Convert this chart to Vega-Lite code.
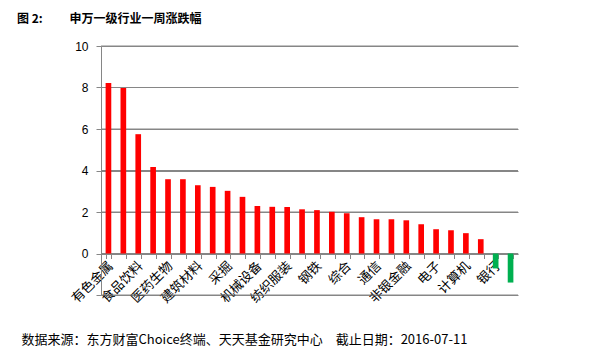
{
  "$schema": "https://vega.github.io/schema/vega-lite/v6.json",
  "width": 417,
  "height": 249,
  "autosize": "none",
  "padding": {"left": 101, "top": 46, "right": 78, "bottom": 56},
  "background": "white",
  "title": {
    "text": "图 2:　　 申万一级行业一周涨跌幅",
    "anchor": "start",
    "frame": "group",
    "dx": -84,
    "offset": 14,
    "font": "Noto Sans CJK SC",
    "fontSize": 12,
    "fontWeight": "bold",
    "color": "black"
  },
  "layer": [
    {
      "data": {"values": [{"tick": -2}, {"tick": 0}, {"tick": 2}, {"tick": 4}, {"tick": 6}, {"tick": 8}, {"tick": 10}]},
      "mark": {"type": "rule", "color": "#868686", "strokeWidth": 1},
      "encoding": {
        "y": {"field": "tick", "type": "quantitative"}
      }
    },
    {
      "data": {
        "values": [
          {"industry": "有色金属", "change": 8.22},
          {"industry": "家用电器", "change": 7.98},
          {"industry": "食品饮料", "change": 5.75},
          {"industry": "休闲服务", "change": 4.17},
          {"industry": "医药生物", "change": 3.58},
          {"industry": "化工", "change": 3.58},
          {"industry": "建筑材料", "change": 3.29},
          {"industry": "轻工制造", "change": 3.21},
          {"industry": "采掘", "change": 3.02},
          {"industry": "建筑装饰", "change": 2.73},
          {"industry": "机械设备", "change": 2.29},
          {"industry": "电气设备", "change": 2.25},
          {"industry": "纺织服装", "change": 2.24},
          {"industry": "汽车", "change": 2.13},
          {"industry": "钢铁", "change": 2.09},
          {"industry": "农林牧渔", "change": 2.01},
          {"industry": "综合", "change": 1.94},
          {"industry": "商业贸易", "change": 1.75},
          {"industry": "通信", "change": 1.65},
          {"industry": "公用事业", "change": 1.65},
          {"industry": "非银金融", "change": 1.6},
          {"industry": "交通运输", "change": 1.41},
          {"industry": "电子", "change": 1.17},
          {"industry": "房地产", "change": 1.12},
          {"industry": "计算机", "change": 0.98},
          {"industry": "国防军工", "change": 0.69},
          {"industry": "银行", "change": -0.72},
          {"industry": "传媒", "change": -1.4}
        ]
      },
      "mark": {"type": "bar"},
      "encoding": {
        "x": {
          "field": "industry",
          "type": "nominal",
          "sort": null,
          "scale": {"paddingInner": 0.62, "paddingOuter": 0.31},
          "axis": {
            "title": "数据来源：东方财富Choice终端、天天基金研究中心　截止日期：2016-07-11",
            "titleX": -80,
            "titleY": 86,
            "titleAlign": "left",
            "titleBaseline": "middle",
            "titleFont": "Noto Sans CJK SC",
            "titleFontSize": 13,
            "titleFontWeight": "normal",
            "titleColor": "black",
            "offset": -41.5,
            "grid": false,
            "tickBand": "extent",
            "tickSize": 5,
            "tickColor": "#868686",
            "domainColor": "#868686",
            "labelAngle": -45,
            "labelAlign": "right",
            "labelBaseline": "middle",
            "labelPadding": 5,
            "labelOffset": 2,
            "labelFont": "Noto Sans CJK SC",
            "labelFontSize": 13,
            "labelColor": "black",
            "labelOverlap": false,
            "labelExpr": "indexof(['有色金属','食品饮料','医药生物','建筑材料','采掘','机械设备','纺织服装','钢铁','综合','通信','非银金融','电子','计算机','银行'], datum.value) >= 0 ? datum.label : ''"
          }
        },
        "y": {
          "field": "change",
          "type": "quantitative",
          "scale": {"domain": [-2, 10], "nice": false},
          "axis": {
            "title": null,
            "grid": true,
            "gridColor": "#868686",
            "values": [-2, 0, 2, 4, 6, 8, 10],
            "labelExpr": "datum.value < 0 ? '' : datum.label",
            "labelFont": "Liberation Sans",
            "labelFontSize": 12,
            "labelColor": "black",
            "labelPadding": 8,
            "tickSize": 5,
            "tickColor": "#868686",
            "domainColor": "#868686"
          }
        },
        "color": {
          "condition": {"test": "datum.change < 0", "value": "#00B050"},
          "value": "#FF0000"
        }
      }
    }
  ],
  "config": {"view": {"stroke": null}}
}
